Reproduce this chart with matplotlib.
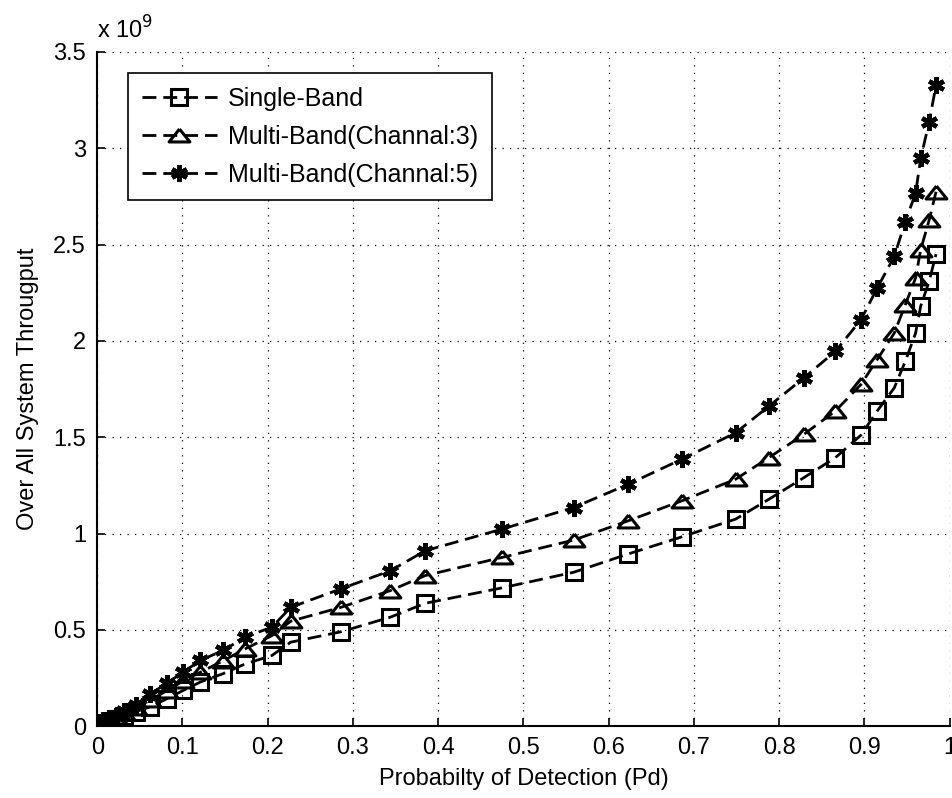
import matplotlib
matplotlib.use("Agg")
import matplotlib.pyplot as plt
from matplotlib.ticker import FuncFormatter

plt.rcParams['font.family'] = ['Liberation Sans', 'DejaVu Sans']

# ---------------- data (throughput in units of 1e9) ---------------- #
pd_vals = [0.0, 0.001, 0.003, 0.006, 0.010, 0.015, 0.022, 0.032, 0.045, 0.062,
           0.082, 0.101, 0.121, 0.148, 0.173, 0.205, 0.227, 0.286, 0.344, 0.385,
           0.475, 0.559, 0.623, 0.686, 0.749, 0.788, 0.829, 0.866, 0.896, 0.915,
           0.935, 0.948, 0.960, 0.966, 0.976, 0.984]

single_band = [0.0, 0.002, 0.005, 0.010, 0.017, 0.026, 0.038, 0.054, 0.075, 0.100,
               0.143, 0.186, 0.229, 0.273, 0.322, 0.367, 0.436, 0.490, 0.566, 0.638,
               0.718, 0.799, 0.894, 0.983, 1.075, 1.178, 1.290, 1.394, 1.511, 1.636,
               1.756, 1.894, 2.040, 2.180, 2.310, 2.450]

multi_band_3 = [0.0, 0.002, 0.006, 0.012, 0.021, 0.032, 0.047, 0.067, 0.094, 0.135,
                0.185, 0.235, 0.280, 0.340, 0.400, 0.470, 0.545, 0.617, 0.704, 0.782,
                0.876, 0.966, 1.066, 1.170, 1.282, 1.394, 1.515, 1.636, 1.774, 1.903,
                2.040, 2.188, 2.326, 2.473, 2.628, 2.774]

multi_band_5 = [0.0, 0.003, 0.007, 0.014, 0.024, 0.037, 0.055, 0.079, 0.112, 0.165,
                0.225, 0.280, 0.342, 0.393, 0.462, 0.514, 0.617, 0.713, 0.807, 0.911,
                1.023, 1.135, 1.256, 1.386, 1.523, 1.661, 1.808, 1.946, 2.110, 2.274,
                2.438, 2.619, 2.766, 2.947, 3.137, 3.327]

labels = ["Single-Band", "Multi-Band(Channal:3)", "Multi-Band(Channal:5)"]

# MATLAB-like wide triangle
tri = [(0, 0.62), (-1, -0.62), (1, -0.62), (0, 0.62)]

fig = plt.figure(figsize=(9.53, 7.98), dpi=100)
ax = fig.add_axes([0.102, 0.09, 0.8945, 0.845])

common = dict(color="black", linewidth=2, dashes=(5, 2.5), markerfacecolor="none",
              markeredgecolor="black")
ax.plot(pd_vals, single_band, marker="s", markersize=11, markeredgewidth=2.2,
        label=labels[0], **common)
ax.plot(pd_vals, multi_band_3, marker=tri, markersize=15, markeredgewidth=2.2,
        label=labels[1], **common)
ax.plot(pd_vals, multi_band_5, marker=(6, 2, 0), markersize=12, markeredgewidth=3.2,
        label=labels[2], **common)

ax.set_xlim(0, 1)
ax.set_ylim(0, 3.5)
ax.set_xticks([i / 10 for i in range(11)])
ax.set_yticks([i / 2 for i in range(8)])
fmt = FuncFormatter(lambda v, p: "%g" % v)
ax.xaxis.set_major_formatter(fmt)
ax.yaxis.set_major_formatter(fmt)

ax.spines["top"].set_visible(False)
ax.spines["right"].set_visible(False)
ax.spines["left"].set_linewidth(1.5)
ax.spines["bottom"].set_linewidth(1.5)
ax.tick_params(direction="in", length=6, width=1.2, labelsize=17, pad=8,
               top=False, right=False)
ax.grid(True, color="black", linestyle=(0, (1, 5)), linewidth=0.9)

ax.set_xlabel("Probabilty of Detection (Pd)", fontsize=17, labelpad=6)
ax.set_ylabel("Over All System Througput", fontsize=17, labelpad=10)
ax.text(0.0, 1.012, r"x 10$^{9}$", transform=ax.transAxes, fontsize=17,
        ha="left", va="bottom")

leg = ax.legend(loc="upper left", bbox_to_anchor=(0.036, 0.968), borderaxespad=0,
                fontsize=18, fancybox=False, framealpha=1, edgecolor="black",
                handlelength=3.0, labelspacing=0.55, borderpad=0.55, handletextpad=0.45)
leg.get_frame().set_linewidth(1.2)

plt.savefig("out.png", dpi=100)
